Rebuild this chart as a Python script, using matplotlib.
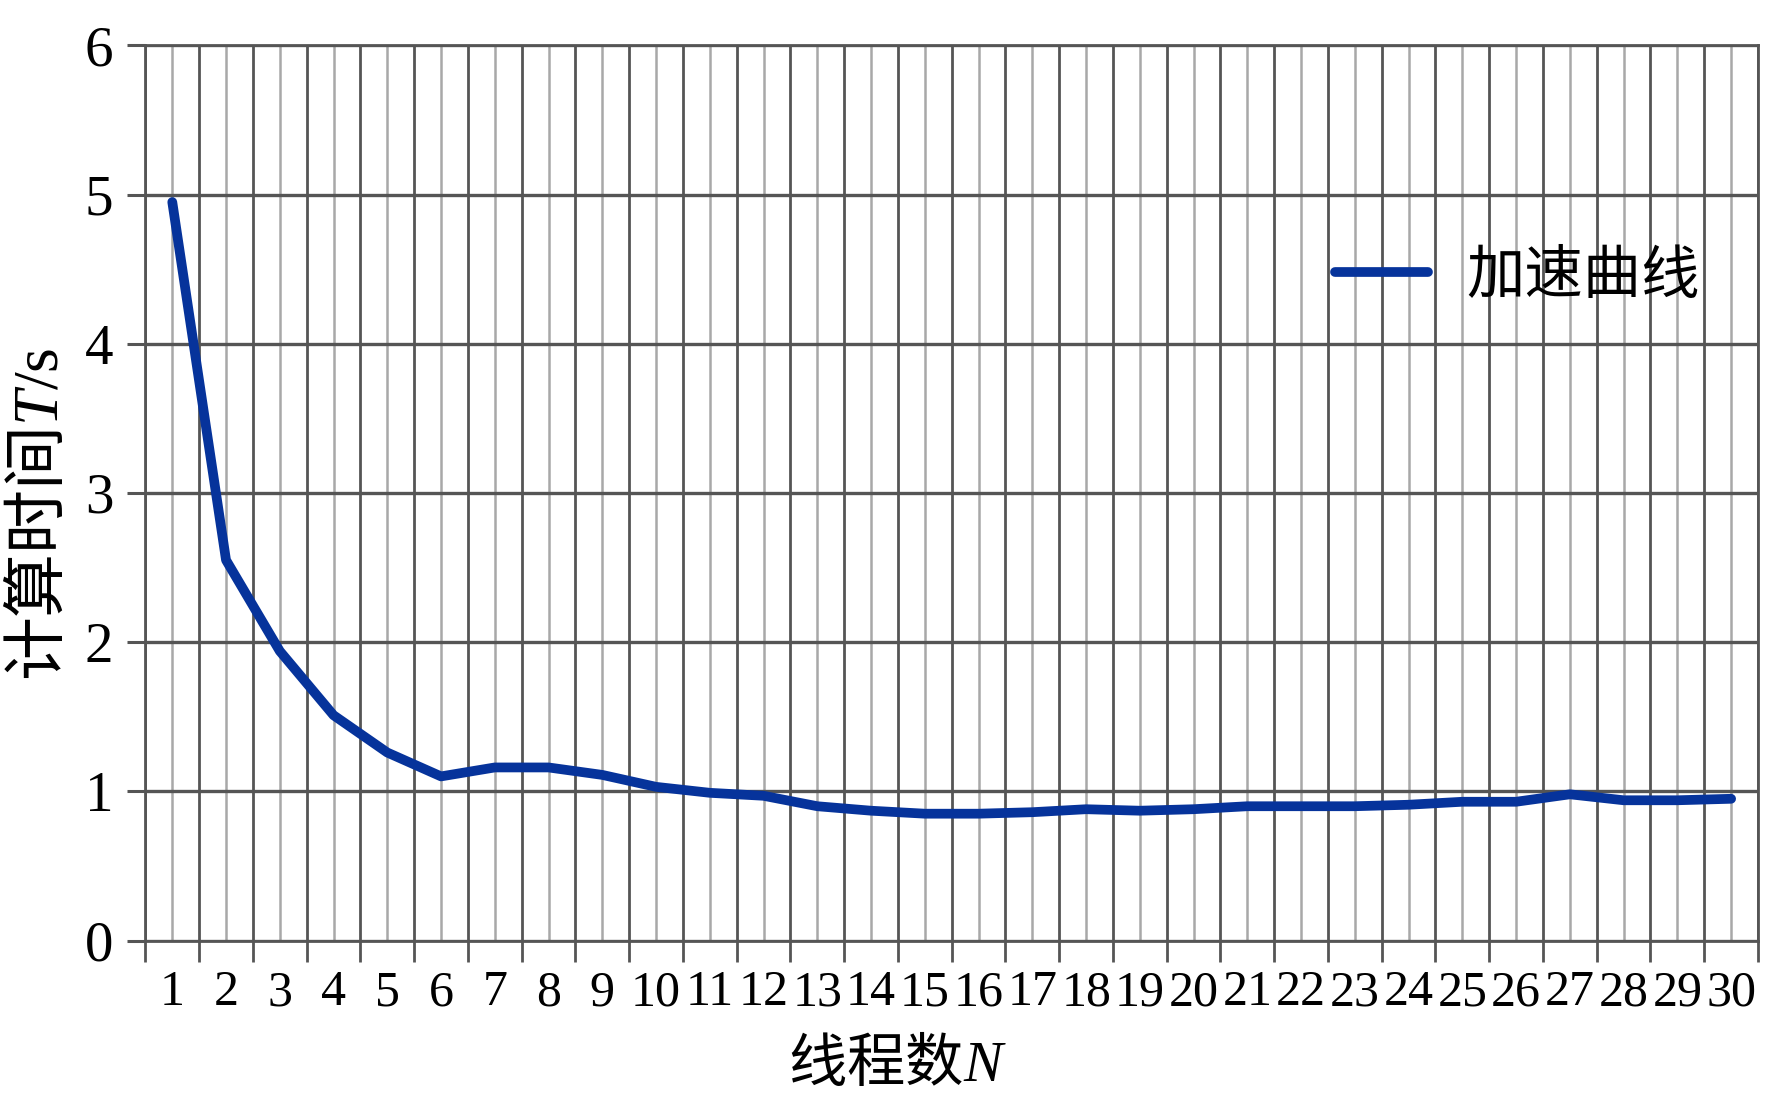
import matplotlib
matplotlib.use("Agg")
import matplotlib.pyplot as plt
from matplotlib.ticker import FixedLocator, NullFormatter, FixedFormatter

plt.rcParams['mathtext.fontset'] = 'custom'
plt.rcParams['mathtext.it'] = 'Liberation Serif:italic'
plt.rcParams['mathtext.rm'] = 'Liberation Serif'

threads = list(range(1, 31))
times = [4.95, 2.55, 1.94, 1.51, 1.26, 1.10, 1.16, 1.16, 1.11, 1.03,
         0.99, 0.97, 0.90, 0.87, 0.85, 0.85, 0.86, 0.88, 0.87, 0.88,
         0.90, 0.90, 0.90, 0.91, 0.93, 0.93, 0.98, 0.94, 0.94, 0.95]
y_ticks = [0, 1, 2, 3, 4, 5, 6]
series_name = '加速曲线'
x_label = '线程数$N$'
y_label = '计算时间$T\\mathrm{/s}$'

W, H = 1781, 1106
fig = plt.figure(figsize=(W / 100, H / 100), dpi=100)
ax = fig.add_axes([145.4 / W, 1 - 940.5 / H, (1758 - 145.4) / W, (940.5 - 45.4) / H])

line_color = '#06339b'
ax.plot(threads, times, color=line_color, lw=7.0, solid_capstyle='round',
        solid_joinstyle='round', label=series_name, zorder=5)

ax.set_xlim(0.5, 30.5)
ax.set_ylim(0, 6)

# major x: category boundaries (dark grid + ticks), minor x: centres (light grid + labels)
bounds = [t - 0.5 for t in threads] + [threads[-1] + 0.5]
ax.xaxis.set_major_locator(FixedLocator(bounds))
ax.xaxis.set_major_formatter(NullFormatter())
ax.xaxis.set_minor_locator(FixedLocator(threads))
ax.xaxis.set_minor_formatter(FixedFormatter([str(t) for t in threads]))
ax.tick_params(axis='x', which='major', length=15, width=2, color='#555555', direction='out')
ax.tick_params(axis='x', which='minor', length=0, pad=21, labelsize=36)
ax.set_yticks(y_ticks)
ax.tick_params(axis='y', length=13, width=2.2, color='#555555', pad=10, labelsize=41)
for lab in ax.get_xticklabels(minor=True) + ax.get_yticklabels():
    lab.set_fontfamily('Liberation Serif')

ax.grid(True, which='major', axis='x', color='#555555', lw=2.0)
ax.grid(True, which='minor', axis='x', color='#a8a8a8', lw=1.8)
ax.grid(True, which='major', axis='y', color='#555555', lw=2.4)
ax.set_axisbelow(True)
for s in ax.spines.values():
    s.set_color('#555555')
    s.set_linewidth(2.0)

cjk = ['Noto Sans CJK SC', 'DejaVu Sans']
fig.text(897 / W, 1 - 1065 / H, x_label, fontsize=42, family=cjk, ha='center', va='center')
fig.text(40 / W, 1 - 514 / H, y_label, fontsize=46, family=cjk, ha='center', va='center',
         rotation=90)

leg = ax.legend(loc='center left', bbox_to_anchor=((1335 - 145.4) / (1758 - 145.4), 0.742),
                frameon=False, borderaxespad=0, borderpad=0, handlelength=1.6,
                handletextpad=0.65, prop={'family': cjk, 'size': 42})

fig.savefig('out.png', dpi=100, facecolor='white')
